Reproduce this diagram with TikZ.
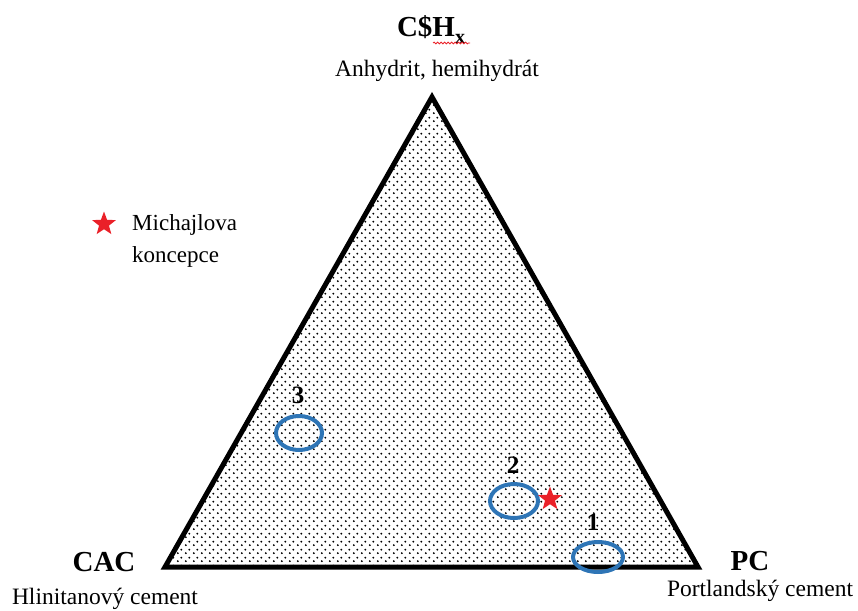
\documentclass[tikz,border=0pt]{standalone}
\usepackage{fontspec}
\setmainfont{Liberation Serif}
\usetikzlibrary{patterns.meta,shapes.geometric,decorations.pathmorphing}
\tikzdeclarepattern{
  name=tridots,
  type=uncolored,
  bounding box={(0pt,0pt) and (8pt,8pt)},
  tile size={(8pt,8pt)},
  code={\fill (2pt,2pt) circle (1.15pt); \fill (6pt,6pt) circle (1.15pt);}
}
\definecolor{ringblue}{RGB}{46,117,182}
\definecolor{starred}{RGB}{234,32,40}
\begin{document}
\begin{tikzpicture}[x=1pt,y=-1pt,
  ring/.style={draw=ringblue,line width=4pt},
  redstar/.style={star,star points=5,star point ratio=2.4,fill=starred,draw=none,minimum size=25pt,inner sep=0pt},
  vlabel/.style={font=\bfseries\fontsize{29}{30}\selectfont,anchor=base,inner sep=0pt},
  desc/.style={font=\fontsize{23.5}{24}\selectfont,anchor=base,inner sep=0pt},
  legend/.style={font=\fontsize{23}{24}\selectfont,anchor=base west,inner sep=0pt},
  num/.style={font=\bfseries\fontsize{25}{25}\selectfont,anchor=base,inner sep=0pt}]
\useasboundingbox (0,0) rectangle (858,610);
\coordinate (A) at (432,97);
\coordinate (L) at (165,567);
\coordinate (R) at (698,567);
\fill[pattern={tridots},pattern color=black] (A)--(L)--(R)--cycle;
\draw[line width=5pt,line join=miter] (A)--(L)--(R)--cycle;
% vertex labels
\node[vlabel] (csh) at (431,37) {C\$H\raisebox{-0.22em}{\fontsize{20}{20}\selectfont x}};
\coordinate (wv1) at (433,43);
\coordinate (wv2) at (470,43);
\draw[starred,line width=0.8pt,decorate,decoration={snake,amplitude=0.9pt,segment length=3.5pt}] (wv1) -- (wv2);
\node[desc] (anh) at (437,76) {Anhydrit, hemihydrát};
\node[vlabel] (cac) at (104,571) {CAC};
\node[desc] (hlin) at (105,604) {Hlinitanový cement};
\node[vlabel] (pc) at (750,570) {PC};
\node[desc] (port) at (760,596) {Portlandský cement};
% legend
\node[redstar] (lstar) at (104,224) {};
\node[legend] (mich) at (132,230) {Michajlova};
\node[legend] (konc) at (132,262) {koncepce};
% regions
\draw[ring] (299,433) ellipse [x radius=23pt, y radius=17pt];
\node[num] (n3) at (298,403) {3};
\draw[ring] (514,501) ellipse [x radius=24pt, y radius=17pt];
\node[num] (n2) at (513,473) {2};
\node[redstar] (star2) at (550,499) {};
\draw[ring] (598,557) ellipse [x radius=25pt, y radius=15pt];
\node[num] (n1) at (593,530) {1};
\end{tikzpicture}
\end{document}
